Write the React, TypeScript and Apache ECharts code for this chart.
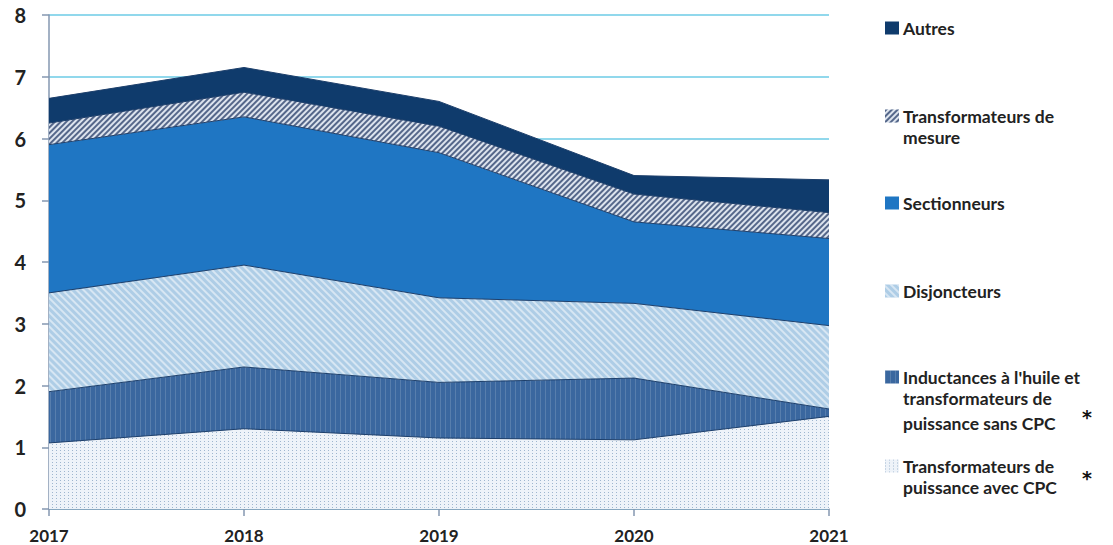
import React, { useEffect, useRef } from "react";
import * as echarts from "echarts";

const years = ["2017", "2018", "2019", "2020", "2021"];
const avecCPC = [1.07, 1.3, 1.15, 1.12, 1.5];
const sansCPC = [0.83, 1.0, 0.9, 1.0, 0.12];
const disjoncteurs = [1.6, 1.65, 1.37, 1.21, 1.35];
const sectionneurs = [2.4, 2.4, 2.35, 1.32, 1.41];
const transfoMesure = [0.35, 0.4, 0.43, 0.45, 0.42];
const autres = [0.4, 0.4, 0.4, 0.3, 0.53];

const names = [
  "Transformateurs de puissance avec CPC",
  "Inductances à l'huile et transformateurs de puissance sans CPC",
  "Disjoncteurs",
  "Sectionneurs",
  "Transformateurs de mesure",
  "Autres",
];
const legendLines: string[][] = [
  ["Transformateurs de", "puissance avec CPC"],
  ["Inductances à l'huile et", "transformateurs de", "puissance sans CPC"],
  ["Disjoncteurs"],
  ["Sectionneurs"],
  ["Transformateurs de", "mesure"],
  ["Autres"],
];
const legendTops = [464, 375, 289, 201, 114, 26];

export default function App() {
  const ref = useRef<HTMLDivElement>(null);
  useEffect(() => {
    const chart = echarts.init(ref.current!, null, { renderer: "svg" });
    const values = [avecCPC, sansCPC, disjoncteurs, sectionneurs, transfoMesure, autres];
    const colors = ["#eef3f9", "#3a679f", "#aecde6", "#1f76c3", "#dde4ee", "#0f3b6c"];
    const decals: any[] = [
      { symbol: "rect", dashArrayX: [1, 3], dashArrayY: [1, 2], symbolSize: 1, color: "#9fb6cf" },
      { symbol: "rect", dashArrayX: [1, 4], dashArrayY: [1, 0], symbolSize: 1, color: "rgba(255,255,255,0.15)" },
      { symbol: "rect", dashArrayX: [1, 0], dashArrayY: [1.5, 2.5], symbolSize: 1, rotation: Math.PI / 4, color: "rgba(255,255,255,0.5)" },
      null,
      { symbol: "rect", dashArrayX: [1, 0], dashArrayY: [2, 2], symbolSize: 1, rotation: -Math.PI / 4, color: "#55678a" },
      null,
    ];
    const font = "Lato, 'Noto Sans', sans-serif";
    const series = values.map((v, i) => ({
      name: names[i],
      type: "line",
      stack: "total",
      data: v,
      symbol: "none",
      smooth: false,
      lineStyle: { width: 1, color: "#1d3f6b" },
      itemStyle: decals[i] ? { color: colors[i], decal: decals[i] } : { color: colors[i] },
      areaStyle: { opacity: 1, color: colors[i] },
      z: 2,
    }));
    const legends = names.map((n, i) => ({
      data: [{ name: n, icon: "rect" }],
      left: 885,
      top: legendTops[i] - 7,
      itemWidth: 14,
      itemHeight: 13,
      itemGap: 4,
      padding: 0,
      selectedMode: false,
      formatter: () => legendLines[i][0],
      textStyle: { fontFamily: font, fontWeight: "bold", fontSize: 17.5, color: "#222", padding: [0, 0, 0, -1] },
    }));
    const graphics: any[] = [];
    legendLines.forEach((lines, i) => {
      lines.slice(1).forEach((l, j) => {
        graphics.push({
          type: "text",
          left: 903,
          top: legendTops[i] + 25 * (j + 1) - 11,
          style: { text: l, fontFamily: font, fontWeight: "bold", fontSize: 17.5, fill: "#222" },
        });
      });
    });
    const astFont = "'DejaVu Sans', sans-serif";
    graphics.push({ type: "text", left: 1082, top: 407, style: { text: "*", fontFamily: astFont, fontWeight: "bold", fontSize: 19, fill: "#111" } });
    graphics.push({ type: "text", left: 1082, top: 468, style: { text: "*", fontFamily: astFont, fontWeight: "bold", fontSize: 19, fill: "#111" } });

    chart.setOption({
      animation: false,
      backgroundColor: "#ffffff",
      grid: { left: 49, right: 284, top: 15, bottom: 36 },
      legend: legends,
      graphic: graphics,
      xAxis: {
        type: "category",
        data: years,
        boundaryGap: false,
        axisLine: { lineStyle: { color: "#8497b0", width: 1.5 } },
        axisTick: { show: true, length: 7, alignWithLabel: true, lineStyle: { color: "#8497b0", width: 1.5 } },
        axisLabel: { fontFamily: font, fontWeight: "bold", fontSize: 17, color: "#222", margin: 18 },
        splitLine: { show: false },
      },
      yAxis: {
        type: "value",
        min: 0,
        max: 8,
        interval: 1,
        axisLine: { show: true, lineStyle: { color: "#8497b0", width: 1.5 } },
        axisTick: { show: true, length: 7, lineStyle: { color: "#8497b0", width: 1.5 } },
        axisLabel: { fontFamily: font, fontWeight: "bold", fontSize: 20, color: "#222", margin: 23 },
        splitLine: { show: true, lineStyle: { color: "#6ccbe6", width: 1.5 } },
      },
      series,
    });
    return () => chart.dispose();
  }, []);
  return <div ref={ref} style={{ width: 1113, height: 545, position: "absolute", left: 0, top: 0 }} />;
}
